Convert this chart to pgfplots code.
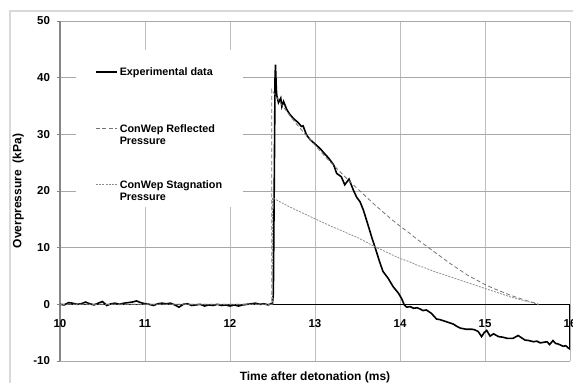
\documentclass[border=0pt]{standalone}
\usepackage{pgfplots}
\pgfplotsset{compat=1.18}
\usepackage{pgfplotstable}
\usepackage{fontspec}
\setmainfont{Liberation Sans}

\definecolor{framegray}{RGB}{217,217,217}
\definecolor{axisgray}{RGB}{134,134,134}
\definecolor{hgrid}{RGB}{168,168,168}
\definecolor{vgrid}{RGB}{190,190,190}
\definecolor{reflgray}{RGB}{115,115,115}
\definecolor{staggray}{RGB}{140,140,140}

% two-line legend text, first line on the legend line
\newcommand{\twoline}[2]{\begin{tabular}[t]{@{}l@{}}#1\\#2\end{tabular}}

% Measured overpressure (kPa) against time after detonation (ms)
\pgfplotstableread{
t p
10.00 0.0
10.05 -0.1
10.10 0.3
10.15 0.2
10.20 0.0
10.25 0.1
10.30 0.4
10.35 0.1
10.40 -0.1
10.45 0.2
10.50 0.5
10.55 -0.2
10.60 0.1
10.65 0.2
10.70 0.0
10.75 0.2
10.80 0.3
10.85 0.4
10.90 0.6
10.95 0.3
11.00 0.1
11.05 0.0
11.10 -0.2
11.15 0.1
11.20 0.2
11.25 0.1
11.30 0.2
11.35 -0.1
11.40 -0.5
11.45 0.0
11.50 0.1
11.55 -0.2
11.60 -0.1
11.65 0.0
11.70 -0.3
11.75 -0.1
11.80 -0.2
11.85 0.0
11.90 -0.2
11.95 -0.1
12.00 -0.3
12.05 -0.1
12.10 -0.3
12.15 -0.1
12.20 0.0
12.25 0.1
12.30 0.2
12.35 0.0
12.40 0.1
12.45 -0.1
12.50 0.2
12.51 2.0
12.52 20.0
12.53 40.0
12.535 42.3
12.545 38.0
12.55 36.9
12.57 35.6
12.597 36.4
12.61 34.9
12.63 35.8
12.667 34.4
12.70 33.6
12.745 32.8
12.80 32.1
12.84 31.4
12.86 31.5
12.90 29.9
12.94 29.1
13.00 28.3
13.06 27.5
13.10 26.8
13.16 25.8
13.22 24.6
13.255 23.1
13.31 22.5
13.35 21.1
13.40 22.1
13.45 20.2
13.49 18.9
13.53 18.1
13.57 16.6
13.63 13.7
13.67 11.7
13.71 9.9
13.76 7.5
13.80 5.8
13.86 4.6
13.92 3.1
13.98 2.0
14.02 1.0
14.05 -0.1
14.08 -0.5
14.12 -0.4
14.16 -0.7
14.20 -0.6
14.24 -0.85
14.27 -1.1
14.31 -1.0
14.37 -1.6
14.43 -2.6
14.47 -2.7
14.51 -2.9
14.55 -3.1
14.59 -3.3
14.63 -3.5
14.67 -3.9
14.71 -4.2
14.78 -4.4
14.85 -4.4
14.88 -4.5
14.92 -4.8
14.96 -5.7
14.99 -5.0
15.02 -4.6
15.06 -5.6
15.10 -5.2
15.16 -5.7
15.21 -5.8
15.26 -6.0
15.33 -6.0
15.39 -5.5
15.43 -5.9
15.47 -6.3
15.52 -6.4
15.57 -6.6
15.61 -6.5
15.65 -6.8
15.69 -6.7
15.73 -6.6
15.76 -7.1
15.80 -6.4
15.83 -6.9
15.86 -7.0
15.89 -7.2
15.92 -7.4
15.95 -7.3
15.98 -7.7
16.00 -7.9
16.00 0.0
}\experimental

% ConWep reflected pressure
\pgfplotstableread{
t p
10.00 0.0
12.49 0.0
12.49 37.9
12.60 35.4
12.70 33.4
12.80 31.5
12.90 29.8
13.00 28.1
13.10 26.4
13.20 24.8
13.30 23.3
13.40 21.8
13.50 20.4
13.60 19.0
13.70 17.6
13.80 16.3
13.90 15.0
14.00 13.8
14.10 12.7
14.20 11.5
14.30 10.4
14.40 9.3
14.50 8.2
14.60 7.1
14.70 6.1
14.80 5.1
14.90 4.3
15.00 3.5
15.10 2.8
15.20 2.2
15.30 1.6
15.40 1.1
15.50 0.6
15.60 0.2
15.63 0.0
}\reflected

% ConWep stagnation pressure
\pgfplotstableread{
t p
10.00 0.0
12.50 0.0
12.50 18.8
12.60 18.0
12.70 17.2
12.80 16.5
12.90 15.8
13.00 15.1
13.10 14.4
13.20 13.7
13.30 13.1
13.40 12.4
13.50 11.8
13.60 11.0
13.70 10.2
13.80 9.5
13.90 8.8
14.00 8.1
14.10 7.6
14.20 6.9
14.30 6.4
14.40 5.8
14.50 5.3
14.60 4.8
14.70 4.3
14.80 3.8
14.90 3.3
15.00 2.8
15.10 2.3
15.20 1.8
15.30 1.3
15.40 0.9
15.50 0.5
15.60 0.1
15.63 0.0
}\stagnation

\begin{document}
\begin{tikzpicture}
\useasboundingbox (0,0) rectangle (573bp,383bp);
\clip (0,0) rectangle (573bp,383bp);
\draw[framegray, line width=1.3bp] (10bp,372bp) rectangle (600bp,-20bp);
\begin{axis}[
  at={(60bp,22bp)}, anchor=south west,
  width=510bp, height=340bp, scale only axis,
  xmin=10, xmax=16, ymin=-10, ymax=50,
  axis x line*=middle, axis y line*=left,
  hide obscured x ticks=false, hide obscured y ticks=false,
  x axis line style={-, black, line width=1.6bp},
  y axis line style={-, axisgray, line width=1.5bp},
  xtick={10,11,...,16}, ytick={-10,0,...,50},
  xtick style={draw=none},
  ytick style={axisgray, line width=0.8bp},
  tick align=outside, major tick length=3.5bp,
  xmajorgrids, ymajorgrids,
  x grid style={vgrid, line width=0.9bp},
  y grid style={hgrid, line width=0.9bp},
  /pgf/number format/assume math mode=true,
  tick label style={font=\fontsize{11.5bp}{13bp}\selectfont\bfseries},
  xticklabel style={yshift=-8bp},
  yticklabel style={xshift=-3bp},
  xlabel={Time after detonation (ms)},
  ylabel={Overpressure~ (kPa)},
  label style={font=\fontsize{12bp}{14bp}\selectfont\bfseries},
  xlabel style={at={(axis description cs:0.5,-0.047)}, anchor=center},
  ylabel style={at={(axis description cs:-0.082,0.5)}, anchor=center},
  legend cell align=left,
  legend image code/.code={\draw[#1] (0bp,0bp) -- (21bp,0bp);},
  legend style={at={(axis cs:10.188,44.9)}, anchor=north west,
    draw=none, fill=white, inner xsep=19bp, inner ysep=15bp,
    row sep=42bp,
    font=\fontsize{10.8bp}{12.5bp}\selectfont\bfseries},
]
\addplot[black, line width=1.6bp] table[x=t, y=p] {\experimental};
\addlegendentry{\twoline{Experimental data}{\mbox{}}}
\addplot[reflgray, line width=0.8bp, dash pattern=on 4bp off 2.5bp] table[x=t, y=p] {\reflected};
\addlegendentry{\twoline{ConWep Reflected}{Pressure}}
\addplot[staggray, line width=0.8bp, dash pattern=on 2bp off 1.2bp] table[x=t, y=p] {\stagnation};
\addlegendentry{\twoline{ConWep Stagnation}{Pressure\rule[-17bp]{0pt}{1bp}}}
\end{axis}
\end{tikzpicture}
\end{document}
